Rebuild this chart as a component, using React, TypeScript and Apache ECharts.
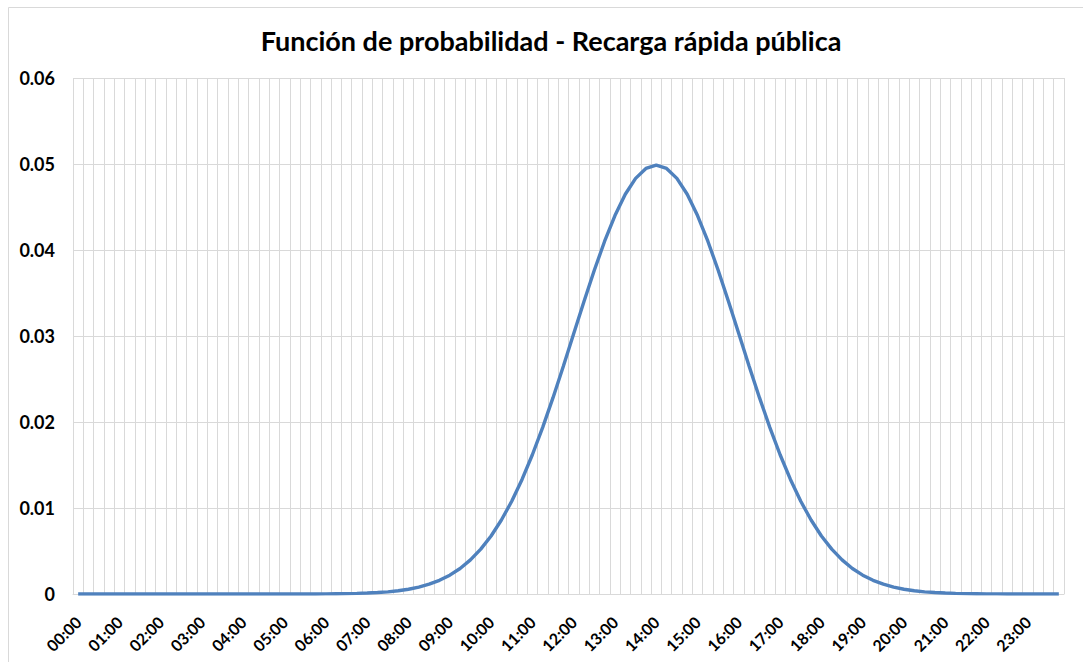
import React, { useEffect, useRef } from "react";
import * as echarts from "echarts";

const TITLE = "Función de probabilidad - Recarga rápida pública";

const HOURS = ["00","01","02","03","04","05","06","07","08","09","10","11","12","13","14","15","16","17","18","19","20","21","22","23"];
const QUARTERS = ["00", "15", "30", "45"];
const CATEGORIES: string[] = HOURS.flatMap((h) => QUARTERS.map((q) => `${h}:${q}`));

const PROBABILITY = [
  0, 0, 0, 0, 0, 0, 0, 0, 0, 0, 0, 0,
  0, 0, 0, 0, 0, 0, 0, 0, 0, 0, 0, 0,
  0.00002, 0.00003, 0.00004, 0.00007, 0.00011, 0.00017, 0.00025, 0.00038,
  0.00055, 0.0008, 0.00114, 0.00159, 0.00219, 0.00297, 0.00397, 0.00522,
  0.00675, 0.0086, 0.01078, 0.01332, 0.01619, 0.01938, 0.02283, 0.02649,
  0.03025, 0.03401, 0.03764, 0.04102, 0.04401, 0.04648, 0.04833, 0.04948,
  0.04987, 0.04948, 0.04833, 0.04648, 0.04401, 0.04102, 0.03764, 0.03401,
  0.03025, 0.02649, 0.02283, 0.01938, 0.01619, 0.01332, 0.01078, 0.0086,
  0.00675, 0.00522, 0.00397, 0.00297, 0.00219, 0.00159, 0.00114, 0.0008,
  0.00055, 0.00038, 0.00025, 0.00017, 0.00011, 0.00007, 0.00004, 0.00003,
  0.00002, 0.00001, 0, 0, 0, 0, 0, 0,
];

const FONT = "Lato, 'Open Sans', sans-serif";

export default function App() {
  const ref = useRef<HTMLDivElement>(null);
  useEffect(() => {
    if (!ref.current) return;
    const chart = echarts.init(ref.current, undefined, { renderer: "svg" });
    chart.setOption({
      animation: false,
      backgroundColor: "#ffffff",
      grid: { left: 73, right: 19, top: 78, bottom: 68, containLabel: false },
      graphic: [
        { type: "line", shape: { x1: 8.5, y1: 7.5, x2: 1083, y2: 7.5 }, style: { stroke: "#d9d9d9", lineWidth: 1 } },
        { type: "line", shape: { x1: 8.5, y1: 7.5, x2: 8.5, y2: 662 }, style: { stroke: "#d9d9d9", lineWidth: 1 } },
        {
          type: "text",
          x: 551,
          y: 40,
          style: {
            text: TITLE,
            fontFamily: FONT,
            fontWeight: "bold",
            fontSize: 27,
            fill: "#000000",
            textAlign: "center",
            textVerticalAlign: "middle",
          },
        },
      ],
      xAxis: {
        type: "category",
        data: CATEGORIES,
        boundaryGap: true,
        axisTick: { show: false },
        axisLine: { show: true, lineStyle: { color: "#d9d9d9", width: 1 } },
        splitLine: { show: true, interval: 0, lineStyle: { color: "#d9d9d9", width: 1 } },
        axisLabel: {
          interval: 3,
          rotate: 45,
          margin: 25,
          color: "#000000",
          fontFamily: FONT,
          fontWeight: "bold",
          fontSize: 16,
        },
      },
      yAxis: {
        type: "value",
        min: 0,
        max: 0.06,
        interval: 0.01,
        axisLine: { show: false },
        axisTick: { show: false },
        splitLine: { show: true, lineStyle: { color: "#d9d9d9", width: 1 } },
        axisLabel: {
          margin: 18,
          color: "#000000",
          fontFamily: FONT,
          fontWeight: "bold",
          fontSize: 18,
        },
      },
      series: [
        {
          type: "line",
          data: PROBABILITY,
          showSymbol: false,
          symbol: "none",
          smooth: false,
          lineStyle: { color: "#4f81bd", width: 3.4 },
          itemStyle: { color: "#4f81bd" },
        },
      ],
    });
    return () => chart.dispose();
  }, []);
  return (
    <div
      ref={ref}
      style={{ position: "absolute", left: 0, top: 0, width: 1083, height: 662 }}
    />
  );
}
